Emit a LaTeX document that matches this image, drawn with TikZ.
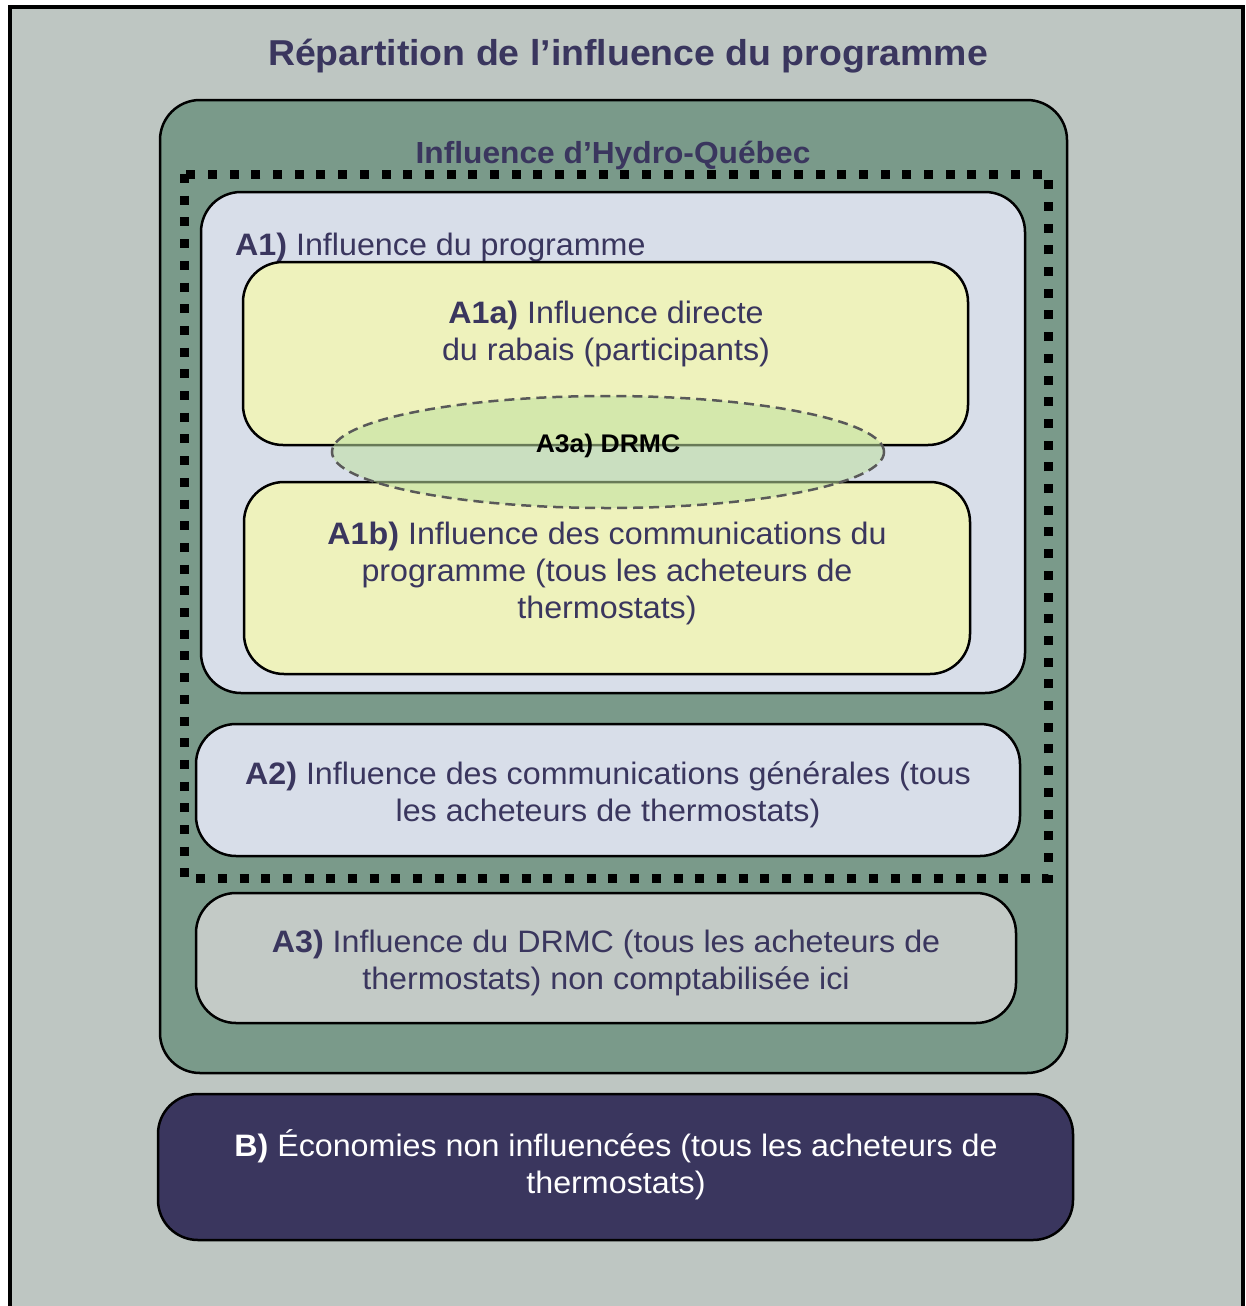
\documentclass[tikz,border=0pt]{standalone}
\usepackage{fontspec}
\setmainfont[FakeStretch=1.04]{Liberation Sans}
\usetikzlibrary{shapes.geometric}
\definecolor{bgc}{HTML}{BEC6C2}
\definecolor{greenc}{HTML}{7A9A8A}
\definecolor{bluec}{HTML}{D8DEE9}
\definecolor{yellowc}{HTML}{EEF2BC}
\definecolor{grayc}{HTML}{C3CAC6}
\definecolor{navyc}{HTML}{3A365E}
\definecolor{ellc}{HTML}{BFE0A0}
\tikzset{
  box/.style={draw=black, line width=2.5pt, rounded corners=40pt},
  body/.style={font=\fontsize{31}{37}\selectfont, text=navyc, align=center, inner sep=0pt},
}
\begin{document}
\begin{tikzpicture}[x=1pt, y=-1pt]
\useasboundingbox (0,0) rectangle (1246,1306);
\fill[white] (0,0) rectangle (1246,1306);
\draw[line width=4pt, fill=bgc] (10,7) rectangle (1243,1330);
\node[font=\fontsize{36}{42}\selectfont\bfseries, text=navyc, inner sep=0pt] (title) at (628,56) {Répartition de l’influence du programme};
% green box
\draw[box, fill=greenc] (160,100) rectangle (1067,1073);
\node[font=\fontsize{30.5}{36}\selectfont\bfseries, text=navyc, inner sep=0pt] (hq) at (613,155) {Influence d’Hydro-Québec};
% A1 box
\draw[box, fill=bluec] (201,192) rectangle (1025,693);
\node[body, anchor=west] (a1) at (235,247) {\textbf{A1)} Influence du programme};
% A1a
\draw[box, fill=yellowc] (243,262) rectangle (968,445);
\node[body] (a1a) at (606,334) {\textbf{A1a)} Influence directe\\du rabais (participants)};
% A1b
\draw[box, fill=yellowc] (244,482) rectangle (970,674);
\node[body] (a1b) at (607,573) {\textbf{A1b)} Influence des communications du\\programme (tous les acheteurs de\\thermostats)};
% ellipse
\node[ellipse, minimum width=552pt, minimum height=112pt, fill=ellc, fill opacity=0.55, draw=black!65, line width=2.5pt, dash pattern=on 10pt off 6pt, inner sep=0pt] (a3a) at (608,452) {};
\node[font=\fontsize{25.5}{30}\selectfont\bfseries, text=black, inner sep=0pt] (a3alabel) at (608,446) {A3a) DRMC};
% dotted frame
\draw[line width=9pt, dash pattern=on 9pt off 12.7pt] (184,174) rectangle (1048,878);
% A2
\draw[box, fill=bluec] (196,724) rectangle (1020,856);
\node[body] (a2) at (608,795) {\textbf{A2)} Influence des communications générales (tous\\les acheteurs de thermostats)};
% A3
\draw[box, fill=grayc] (196,893) rectangle (1016,1023);
\node[body] (a3) at (606,963) {\textbf{A3)} Influence du DRMC (tous les acheteurs de\\thermostats) non comptabilisée ici};
% B
\draw[box, fill=navyc] (158,1094) rectangle (1073,1240);
\node[body, text=white] (b) at (616,1165) {\textbf{B)} Économies non influencées (tous les acheteurs de\\thermostats)};
\end{tikzpicture}
\end{document}
